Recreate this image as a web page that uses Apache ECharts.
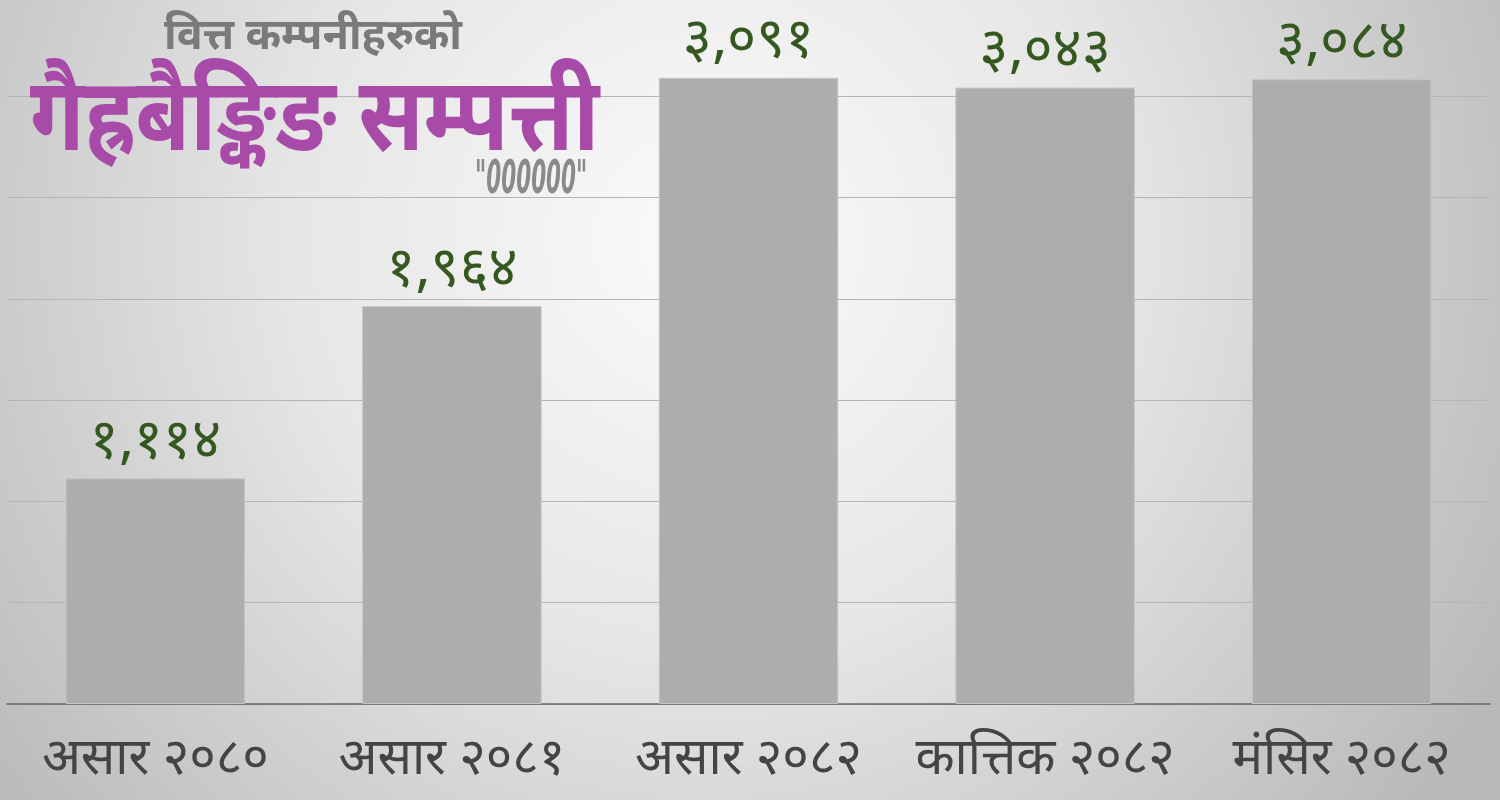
<!DOCTYPE html>
<html>
<head>
<meta charset="utf-8">
<script src="https://cdn.jsdelivr.net/npm/echarts@6/dist/echarts.min.js"></script>
<style>
html,body{margin:0;padding:0;width:1500px;height:800px;overflow:hidden;}
#c{width:1500px;height:800px;}
</style>
</head>
<body>
<div id="c"></div>
<script>
const categories = ['असार २०८०', 'असार २०८१', 'असार २०८२', 'कात्तिक २०८२', 'मंसिर २०८२'];
const values = [1114, 1964, 3091, 3043, 3084];
const titleTop = 'वित्त कम्पनीहरुको';
const titleMain = 'गैह्रबैङ्किङ सम्पत्ती';
const titleUnit = '"000000"';

const devDigits = ['०','१','२','३','४','५','६','७','८','९'];
function toNepali(n){
  const s = n.toLocaleString('en-US');
  return s.replace(/[0-9]/g, d => devDigits[+d]);
}

const chart = echarts.init(document.getElementById('c'));
const devFont = '"Noto Sans Devanagari", "Noto Sans", sans-serif';
chart.setOption({
  backgroundColor: {
    type: 'radial', x: 0.47, y: 0.3, r: 1.15,
    colorStops: [
      {offset: 0, color: '#fbfbfb'},
      {offset: 0.45, color: '#e6e6e6'},
      {offset: 1, color: '#b8b8b8'}
    ]
  },
  graphic: [
    {type: 'text', x: 164, y: 19, z: 10,
     style: {text: titleTop, fontFamily: devFont, fontSize: 43, fontWeight: 'bold', fill: '#7a7a7a', textVerticalAlign: 'top'}},
    {type: 'text', x: 30, y: 80, scaleX: 0.865, z: 10,
     style: {text: titleMain, fontFamily: devFont, fontSize: 102, fontWeight: 'bold', fill: '#a84aa8', textVerticalAlign: 'top'}},
    {type: 'text', x: 475, y: 158, scaleX: 0.52, z: 10,
     style: {text: titleUnit, fontFamily: '"Liberation Sans Narrow", "DejaVu Sans Condensed", sans-serif', fontSize: 46, fontStyle: 'italic', fontWeight: 'bold', fill: '#8a8a8a', textVerticalAlign: 'top'}}
  ],
  grid: {left: 7, right: 10, top: -5, bottom: 96, containLabel: false, outerBoundsMode: 'none'},
  xAxis: {
    type: 'category',
    data: categories,
    axisLine: {lineStyle: {color: '#666', width: 1.5}},
    axisTick: {show: false},
    axisLabel: {interval: 0, hideOverlap: false, fontFamily: devFont, fontSize: 51, color: '#444', margin: 35}
  },
  yAxis: {
    type: 'value', min: 0, max: 3500, interval: 500,
    axisLabel: {show: false},
    axisLine: {show: false},
    axisTick: {show: false},
    splitLine: {lineStyle: {color: '#b5b5b5', width: 1}}
  },
  series: [{
    type: 'bar',
    data: values,
    barWidth: '60.5%',
    itemStyle: {color: '#adadad', borderColor: '#c4c4c4', borderWidth: 1},
    label: {
      show: true, position: 'top', distance: 3,
      formatter: p => toNepali(p.value),
      fontFamily: devFont, fontSize: 56, color: '#34581f'
    }
  }]
});
</script>
</body>
</html>
